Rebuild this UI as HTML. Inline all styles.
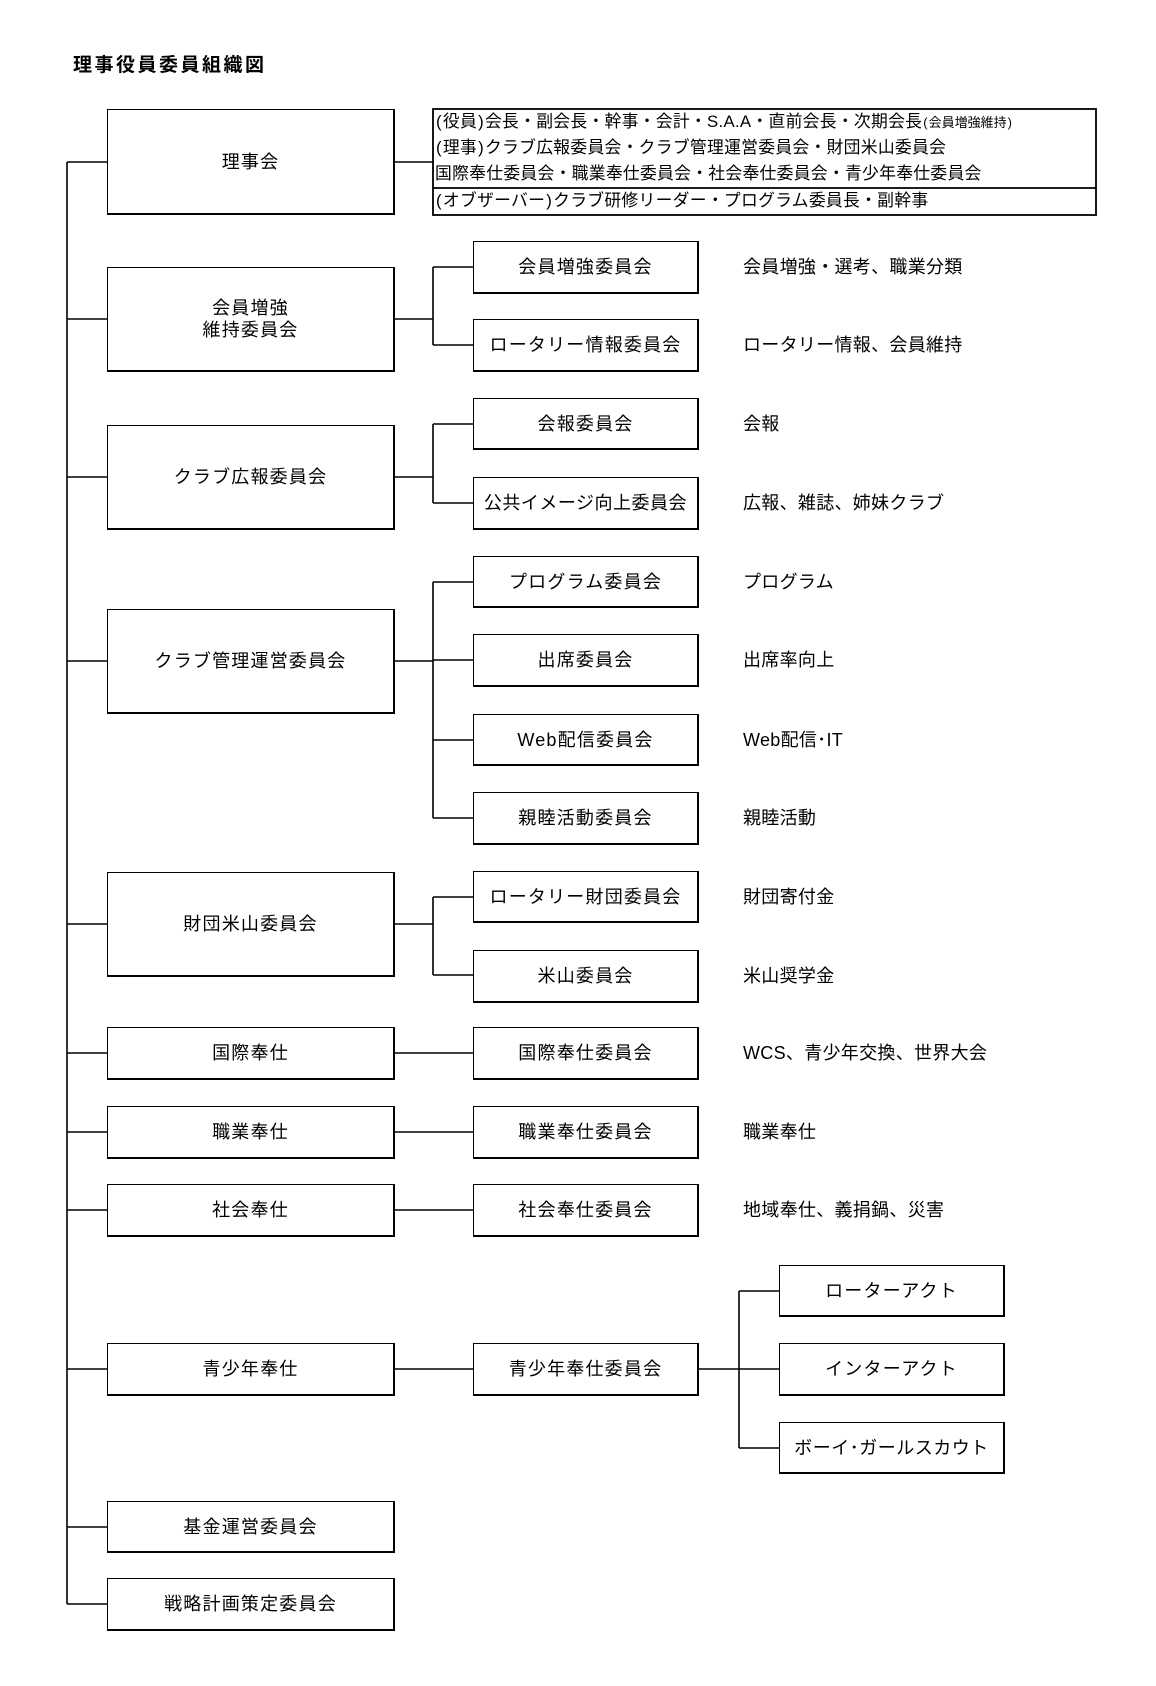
<!DOCTYPE html>
<html><head><meta charset="utf-8"><style>
body{margin:0;background:#fff;width:1156px;height:1686px;position:relative;overflow:hidden;font-family:"Liberation Sans","Noto Sans CJK JP",sans-serif;color:#000}
.b{position:absolute;box-sizing:border-box;border:1.5px solid #000;border-right-width:2px;border-bottom-width:2.5px;display:flex;align-items:center;justify-content:center;text-align:center;font-size:18px;letter-spacing:1.2px;line-height:22px;white-space:nowrap}
.d{position:absolute;font-size:18px;letter-spacing:0.3px;line-height:22px}
.t{position:absolute;left:73px;top:50px;font-size:19px;font-weight:bold;letter-spacing:2.5px}
.info{position:absolute;left:435px;font-size:16.8px;letter-spacing:0.3px;line-height:20px;white-space:nowrap}
.p{padding:0 1px 0 1px}
svg{position:absolute;left:0;top:0}
</style></head><body>
<div class="t">理事役員委員組織図</div>
<svg width="1156" height="1686" stroke="#000" stroke-width="1.6" fill="none">
<path d="M67 162V1604"/>
<path d="M67 162H107M67 319H107M67 477H107M67 661H107M67 924H107M67 1053H107M67 1132H107M67 1210H107M67 1369H107M67 1527H107M67 1604H107"/>
<path d="M395 162H433"/>
<path d="M395 319H433M433 267V345M433 267H473M433 345H473"/>
<path d="M395 477H433M433 424V503M433 424H473M433 503H473"/>
<path d="M395 661H433M433 582V818M433 582H473M433 660H473M433 740H473M433 818H473"/>
<path d="M395 924H433M433 897V975M433 897H473M433 975H473"/>
<path d="M395 1053H473M395 1132H473M395 1210H473M395 1369H473"/>
<path d="M699 1369H779M739 1291V1448M739 1291H779M739 1448H779"/>
<rect x="433" y="109" width="663" height="106" stroke-width="1.8"/>
<path d="M433 188H1096" stroke-width="1.8"/>
</svg>
<div class="info" style="top:112px"><span class="p">(</span>役員<span class="p">)</span>会長・副会長・幹事・会計・S.A.A・直前会長・次期会長<span style="font-size:13px;letter-spacing:0"><span class="p">(</span>会員増強維持<span class="p">)</span></span></div>
<div class="info" style="top:138px"><span class="p">(</span>理事<span class="p">)</span>クラブ広報委員会・クラブ管理運営委員会・財団米山委員会</div>
<div class="info" style="top:164px">国際奉仕委員会・職業奉仕委員会・社会奉仕委員会・青少年奉仕委員会</div>
<div class="info" style="top:191px"><span class="p">(</span>オブザーバー<span class="p">)</span>クラブ研修リーダー・プログラム委員長・副幹事</div>

<div class="b" style="left:107px;top:109px;width:288px;height:106px">理事会</div>
<div class="b" style="left:107px;top:267px;width:288px;height:105px">会員増強<br>維持委員会</div>
<div class="b" style="left:107px;top:425px;width:288px;height:105px">クラブ広報委員会</div>
<div class="b" style="left:107px;top:609px;width:288px;height:105px">クラブ管理運営委員会</div>
<div class="b" style="left:107px;top:872px;width:288px;height:105px">財団米山委員会</div>
<div class="b" style="left:107px;top:1027px;width:288px;height:53px">国際奉仕</div>
<div class="b" style="left:107px;top:1106px;width:288px;height:53px">職業奉仕</div>
<div class="b" style="left:107px;top:1184px;width:288px;height:53px">社会奉仕</div>
<div class="b" style="left:107px;top:1343px;width:288px;height:53px">青少年奉仕</div>
<div class="b" style="left:107px;top:1501px;width:288px;height:52px">基金運営委員会</div>
<div class="b" style="left:107px;top:1578px;width:288px;height:53px">戦略計画策定委員会</div>

<div class="b" style="left:473px;top:241px;width:226px;height:53px">会員増強委員会</div>
<div class="b" style="left:473px;top:319px;width:226px;height:53px">ロータリー情報委員会</div>
<div class="b" style="left:473px;top:398px;width:226px;height:52px">会報委員会</div>
<div class="b" style="left:473px;top:477px;width:226px;height:53px;letter-spacing:0.5px">公共イメージ向上委員会</div>
<div class="b" style="left:473px;top:556px;width:226px;height:52px">プログラム委員会</div>
<div class="b" style="left:473px;top:634px;width:226px;height:53px">出席委員会</div>
<div class="b" style="left:473px;top:714px;width:226px;height:52px">Web配信委員会</div>
<div class="b" style="left:473px;top:792px;width:226px;height:53px">親睦活動委員会</div>
<div class="b" style="left:473px;top:871px;width:226px;height:52px">ロータリー財団委員会</div>
<div class="b" style="left:473px;top:950px;width:226px;height:53px">米山委員会</div>
<div class="b" style="left:473px;top:1027px;width:226px;height:53px">国際奉仕委員会</div>
<div class="b" style="left:473px;top:1106px;width:226px;height:53px">職業奉仕委員会</div>
<div class="b" style="left:473px;top:1184px;width:226px;height:53px">社会奉仕委員会</div>
<div class="b" style="left:473px;top:1343px;width:226px;height:53px">青少年奉仕委員会</div>

<div class="b" style="left:779px;top:1265px;width:226px;height:52px">ローターアクト</div>
<div class="b" style="left:779px;top:1343px;width:226px;height:53px">インターアクト</div>
<div class="b" style="left:779px;top:1422px;width:226px;height:52px;letter-spacing:0.5px">ボーイ･ガールスカウト</div>

<div class="d" style="left:743px;top:256px">会員増強・選考、職業分類</div>
<div class="d" style="left:743px;top:334px">ロータリー情報、会員維持</div>
<div class="d" style="left:743px;top:413px">会報</div>
<div class="d" style="left:743px;top:492px">広報、雑誌、姉妹クラブ</div>
<div class="d" style="left:743px;top:571px">プログラム</div>
<div class="d" style="left:743px;top:649px">出席率向上</div>
<div class="d" style="left:743px;top:729px">Web配信･IT</div>
<div class="d" style="left:743px;top:807px">親睦活動</div>
<div class="d" style="left:743px;top:886px">財団寄付金</div>
<div class="d" style="left:743px;top:965px">米山奨学金</div>
<div class="d" style="left:743px;top:1042px">WCS、青少年交換、世界大会</div>
<div class="d" style="left:743px;top:1121px">職業奉仕</div>
<div class="d" style="left:743px;top:1199px">地域奉仕、義捐鍋、災害</div>
</body></html>
